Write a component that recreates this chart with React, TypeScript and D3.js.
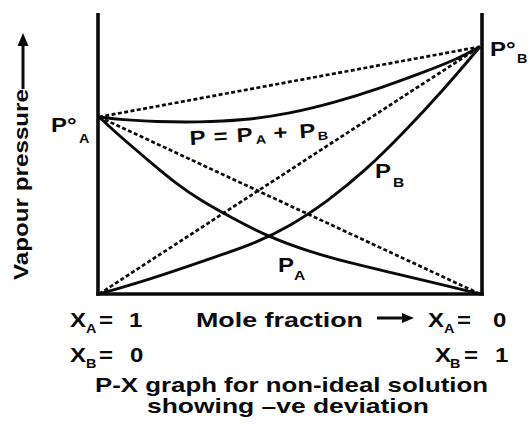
import React from "react";
import * as d3 from "d3";

const W = 531;
const H = 432;

// x = mole fraction of B (0 → pure A, 1 → pure B); pressure in arbitrary units
const P0A = 63;
const P0B = 88;
const totalX = [0, 0.06, 0.15, 0.26, 0.38, 0.5, 0.62, 0.74, 0.86, 0.94, 1];
const totalP = [63, 62, 61.3, 61.1, 61.8, 64.2, 68.2, 73.3, 79.3, 83.6, 88];
const paX = [0, 0.06, 0.13, 0.2, 0.27, 0.35, 0.44, 0.55, 0.66, 0.78, 0.9, 1];
const paP = [63, 55.5, 47.5, 39.5, 33, 27, 20.6, 15.1, 11, 7.2, 3.3, 0];
const pbX = [0, 0.1, 0.2, 0.3, 0.4, 0.5, 0.6, 0.7, 0.8, 0.9, 1];
const pbP = [0, 3.9, 8.3, 13, 17.5, 24, 33, 44, 57.5, 72, 88];

const yAxisLabel = "Vapour pressure";
const xAxisLabel = "Mole fraction";
const captionLines = ["P-X graph for non-ideal solution", "showing \u2013ve deviation"];

const FONT = "'Liberation Sans', Arial, Helvetica, sans-serif";
const INK = "#0a0a0a";

type TProps = {
  x: number;
  y: number;
  s?: number;
  sx?: number;
  rot?: number;
  children: React.ReactNode;
};
function T({ x, y, s = 20, sx = 1.2, rot = 0, children }: TProps) {
  return (
    <g transform={`translate(${x},${y}) rotate(${rot}) scale(${sx},1)`}>
      <text fontSize={s} fontWeight="bold" fontFamily={FONT} fill={INK}>
        {children}
      </text>
    </g>
  );
}

export default function App() {
  const x = d3.scaleLinear().domain([0, 1]).range([99, 480]);
  const y = d3.scaleLinear().domain([0, 100]).range([294, 13]);
  const line = d3
    .line<[number, number]>()
    .x((d) => x(d[0]))
    .y((d) => y(d[1]));
  const zip = (a: number[], b: number[]) => a.map((v, i) => [v, b[i]] as [number, number]);

  const dotted: [number, number][][] = [
    [[0, P0A], [1, P0B]],
    [[0, P0A], [1, 0]],
    [[0, 0], [1, P0B]],
  ];

  const axL = x(0) - 1;
  const axR = x(1) + 2;

  return (
    <svg width={W} height={H} style={{ position: "absolute", left: 0, top: 0, background: "#fff" }}>
      <rect width={W} height={H} fill="#fff" />
      {/* dotted ideal lines */}
      {dotted.map((seg, i) => (
        <path
          key={i}
          d={line.curve(d3.curveLinear)(seg) || ""}
          fill="none"
          stroke={INK}
          strokeWidth={2.7}
          strokeDasharray="4 2.4"
        />
      ))}
      {/* solid curves */}
      {[zip(totalX, totalP), zip(paX, paP), zip(pbX, pbP)].map((pts, i) => (
        <path
          key={"c" + i}
          d={line.curve(d3.curveBasis)(pts) || ""}
          fill="none"
          stroke={INK}
          strokeWidth={2.9}
        />
      ))}
      {/* axes */}
      <line x1={axL} x2={axL} y1={y(100)} y2={y(0) + 1.8} stroke={INK} strokeWidth={3.6} />
      <line x1={axR} x2={axR} y1={y(100)} y2={y(0) + 1.8} stroke={INK} strokeWidth={3.6} />
      <line x1={axL - 1.8} x2={axR + 1.8} y1={y(0)} y2={y(0)} stroke={INK} strokeWidth={3.6} />

      {/* y axis label with arrow */}
      <g transform={`translate(28,280) rotate(-90)`}>
        <text fontSize={20} fontWeight="bold" fontFamily={FONT} fill={INK} textLength={191} lengthAdjust="spacingAndGlyphs">
          {yAxisLabel}
        </text>
      </g>
      <line x1={23} x2={23} y1={89} y2={44} stroke={INK} strokeWidth={3} />
      <polygon points="23,33 17.5,46 28.5,46" fill={INK} />

      {/* point labels */}
      <T x={51} y={132}>P°</T>
      <T x={79} y={143} s={12}>A</T>
      <T x={490} y={56}>P°</T>
      <T x={517} y={63} s={12}>B</T>

      <g transform="translate(190,145) rotate(-3.5)">
        <T x={0} y={0}>P</T>
        <T x={24} y={0}>=</T>
        <T x={47} y={0}>P</T>
        <T x={66} y={3} s={12}>A</T>
        <T x={84} y={0}>+</T>
        <T x={110} y={0}>P</T>
        <T x={128} y={3} s={12}>B</T>
      </g>

      <T x={375} y={178}>P</T>
      <T x={393} y={187} s={13}>B</T>
      <T x={278} y={272}>P</T>
      <T x={294} y={280} s={13}>A</T>

      {/* x axis end labels */}
      <T x={70} y={327}>X</T>
      <T x={86} y={333} s={12}>A</T>
      <T x={99} y={327}>=</T>
      <T x={129} y={327}>1</T>

      <T x={70} y={362}>X</T>
      <T x={86} y={368} s={12}>B</T>
      <T x={99} y={362}>=</T>
      <T x={130} y={362}>0</T>

      <T x={428} y={327}>X</T>
      <T x={444} y={333} s={12}>A</T>
      <T x={457} y={327}>=</T>
      <T x={493} y={327}>0</T>

      <T x={435} y={362}>X</T>
      <T x={450} y={368} s={12}>B</T>
      <T x={464} y={362}>=</T>
      <T x={495} y={362}>1</T>

      <text x={196} y={327} fontSize={20} fontWeight="bold" fontFamily={FONT} fill={INK} textLength={167} lengthAdjust="spacingAndGlyphs">
        {xAxisLabel}
      </text>
      <line x1={377} x2={405} y1={318} y2={318} stroke={INK} strokeWidth={3} />
      <polygon points="414,318 402,313 402,323" fill={INK} />

      <text x={95} y={392} fontSize={21} fontWeight="bold" fontFamily={FONT} fill={INK} textLength={393} lengthAdjust="spacingAndGlyphs">
        {captionLines[0]}
      </text>
      <text x={147} y={413} fontSize={21} fontWeight="bold" fontFamily={FONT} fill={INK} textLength={282} lengthAdjust="spacingAndGlyphs">
        {captionLines[1]}
      </text>
    </svg>
  );
}
